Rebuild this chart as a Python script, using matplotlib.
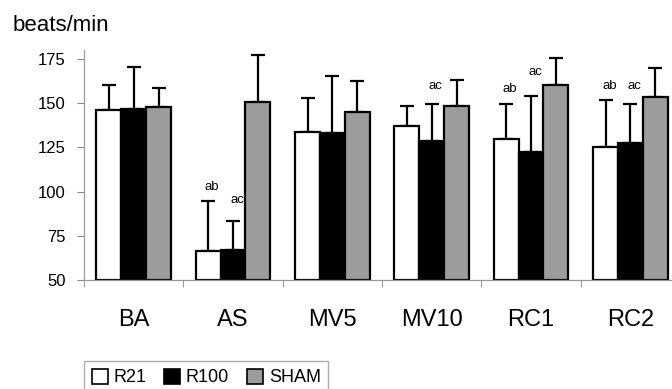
import numpy as np
import matplotlib
matplotlib.use("Agg")
import matplotlib.pyplot as plt
from matplotlib.patches import Patch

plt.rcParams['font.family'] = ['Liberation Sans', 'DejaVu Sans']

categories = ["BA", "AS", "MV5", "MV10", "RC1", "RC2"]
series = ["R21", "R100", "SHAM"]
r21 = [146, 66.5, 134, 137, 130, 125.5]
r100 = [147, 67, 133, 128.5, 122.5, 127.5]
sham = [148, 150.5, 145, 148.5, 160.5, 153.5]
r21_err = [14.5, 28, 19, 11.5, 19.5, 26.5]
r100_err = [23.5, 16.5, 32.5, 21, 31.5, 22]
sham_err = [10.5, 27, 17.5, 14.5, 15, 16.5]
# significance letters: (category, series, text, y of label)
marks = [(1, 0, "ab", 102.5), (1, 1, "ac", 95), (3, 1, "ac", 159.5),
         (4, 0, "ab", 158), (4, 1, "ac", 167.5), (5, 0, "ab", 159.5), (5, 1, "ac", 159.5)]

colors = ["white", "black", "#9c9c9c"]
values = [r21, r100, sham]
errors = [r21_err, r100_err, sham_err]

fig = plt.figure(figsize=(6.72, 3.89), dpi=100)
ax = fig.add_axes([0.125, 0.28, 0.887, 0.591])

x = np.arange(len(categories))
w = 0.25
for i in range(3):
    xs = x + (i - 1) * w
    ax.bar(xs, np.array(values[i]) - 50, bottom=50, width=w, color=colors[i],
           edgecolor="black", linewidth=1.6, zorder=2)
    ax.errorbar(xs, values[i], yerr=[np.zeros(len(x)), errors[i]], fmt="none",
                ecolor="black", elinewidth=1.6, capsize=5, capthick=1.6, zorder=1)

for c, s, t, yy in marks:
    ax.text(c + (s - 1) * w + 0.04, yy, t, ha="center", va="center", fontsize=9.5)

ax.set_xlim(-0.5, len(categories) - 0.5)
ax.set_ylim(50, 180)
ax.set_yticks([50, 75, 100, 125, 150, 175])
ax.tick_params(axis="y", labelsize=12, length=5, color="#888888", pad=8)
ax.set_xticks(x)
ax.set_xticklabels(categories, fontsize=17)
ax.tick_params(axis="x", which="major", length=0, pad=21)
ax.set_xticks(np.arange(-0.5, len(categories), 1), minor=True)
ax.tick_params(axis="x", which="minor", length=5, color="#888888")
for side in ["top", "right"]:
    ax.spines[side].set_visible(False)
for side in ["left", "bottom"]:
    ax.spines[side].set_color("#999999")
    ax.spines[side].set_linewidth(0.9)

fig.text(0.018, 0.935, "beats/min", fontsize=16, va="center", ha="left")

handles = [Patch(facecolor=colors[i], edgecolor="black", linewidth=1.2, label=series[i]) for i in range(3)]
fig.legend(handles=handles, loc="lower left", bbox_to_anchor=(0.112, -0.035), ncol=3,
           frameon=True, fancybox=False, edgecolor="#999999", fontsize=13,
           handlelength=0.9, handleheight=0.9, handletextpad=0.3, columnspacing=1.0,
           borderpad=0.4)

fig.savefig("out.png", dpi=100)
